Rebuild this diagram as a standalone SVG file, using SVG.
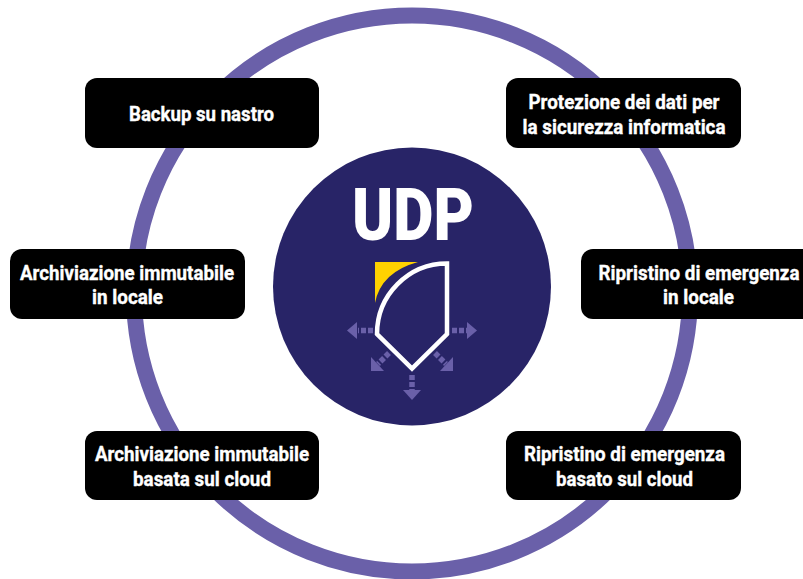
<svg xmlns="http://www.w3.org/2000/svg" width="803" height="579" viewBox="0 0 803 579">
<defs><style>
.b{fill:#000}
.t{font-family:Roboto,"Liberation Sans",sans-serif;font-weight:700;font-size:20px;fill:#fff;stroke:#fff;stroke-width:.35;text-anchor:middle}
.d{stroke:#6a60a9;stroke-width:5.5;stroke-dasharray:5 2;fill:none}
.h{fill:#6a60a9}
</style></defs>
<rect width="803" height="579" fill="#fff"/>
<circle id="ring" cx="412" cy="293.5" r="278" fill="none" stroke="#6a60a9" stroke-width="16"/>
<g id="center">
<circle cx="412" cy="286.5" r="139" fill="#282467"/>
<text x="413" y="240" font-family="Roboto,'Liberation Sans',sans-serif" font-weight="900" font-size="73" fill="#fff" text-anchor="middle" textLength="122" lengthAdjust="spacingAndGlyphs">UDP</text>
<path d="M375 262H418Q381 272 375 303Z" fill="#ffd200"/>
<path d="M447 263.500V334L412 368.500L377 334A70 70.500 0 0 1 447 263.500Z" fill="none" stroke="#fff" stroke-width="4.500"/>
<g id="arrows">
<path class="d" d="M373 330.500H358"/><path class="h" d="M347 330.500L357 322V339Z"/>
<path class="d" d="M452 330.500H467"/><path class="h" d="M477 330.500L467 322V339Z"/>
<path class="d" d="M389 353L378 364"/><path class="h" d="M371 371L371 357L384 371Z"/>
<path class="d" d="M435 353L446 364"/><path class="h" d="M453 371L453 357L440 371Z"/>
<path class="d" d="M412 375V390"/><path class="h" d="M412 400L403 390H421Z"/>
</g>
</g>
<g id="n1"><rect class="b" x="85" y="78" width="234" height="70" rx="12"/><text class="t" x="201.500" y="120.500" textLength="145" lengthAdjust="spacingAndGlyphs">Backup su nastro</text></g>
<g id="n2"><rect class="b" x="506" y="78" width="235" height="70" rx="12"/><text class="t" x="624" y="108.500" textLength="191" lengthAdjust="spacingAndGlyphs">Protezione dei dati per</text><text class="t" x="624" y="133.500" textLength="203" lengthAdjust="spacingAndGlyphs">la sicurezza informatica</text></g>
<g id="n3"><rect class="b" x="10" y="249" width="235" height="70" rx="12"/><text class="t" x="127" y="279.500" textLength="214" lengthAdjust="spacingAndGlyphs">Archiviazione immutabile</text><text class="t" x="127.500" y="303.500" textLength="71" lengthAdjust="spacingAndGlyphs">in locale</text></g>
<g id="n4"><rect class="b" x="581" y="249" width="234" height="70" rx="12"/><text class="t" x="699" y="279.500" textLength="201" lengthAdjust="spacingAndGlyphs">Ripristino di emergenza</text><text class="t" x="698.500" y="303.500" textLength="71" lengthAdjust="spacingAndGlyphs">in locale</text></g>
<g id="n5"><rect class="b" x="85" y="431" width="234" height="69" rx="12"/><text class="t" x="202" y="460.500" textLength="214" lengthAdjust="spacingAndGlyphs">Archiviazione immutabile</text><text class="t" x="202" y="485.500" textLength="138" lengthAdjust="spacingAndGlyphs">basata sul cloud</text></g>
<g id="n6"><rect class="b" x="506" y="431" width="235" height="69" rx="12"/><text class="t" x="624.500" y="460.500" textLength="201" lengthAdjust="spacingAndGlyphs">Ripristino di emergenza</text><text class="t" x="624.500" y="485.500" textLength="137" lengthAdjust="spacingAndGlyphs">basato sul cloud</text></g>
</svg>
